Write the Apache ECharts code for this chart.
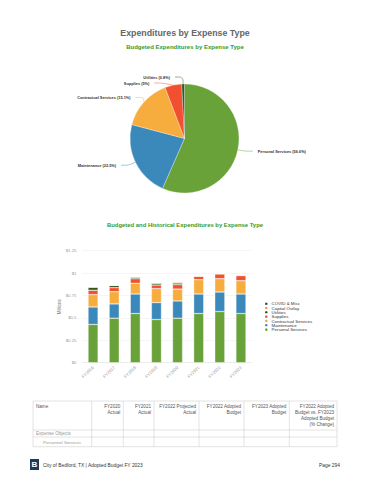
<!DOCTYPE html>
<html><head><meta charset="utf-8">
<script src="https://cdn.jsdelivr.net/npm/echarts@6/dist/echarts.min.js"></script>
<style>html,body{margin:0;padding:0;background:#fff}#c{width:370px;height:480px}</style>
</head><body><div id="c"></div>
<script>
// ---- DATA ----
var pieNames = ['Personal Services', 'Maintenance', 'Contractual Services', 'Supplies', 'Utilities'];
var pieValues = [56.6, 22.5, 15.1, 5.0, 0.8];

var categories = ['FY2016', 'FY2017', 'FY2018', 'FY2019', 'FY2020', 'FY2021', 'FY2022', 'FY2023'];
var personalServices = [0.427, 0.497, 0.549, 0.482, 0.497, 0.549, 0.571, 0.549];
var maintenance      = [0.195, 0.159, 0.218, 0.189, 0.192, 0.218, 0.218, 0.218];
var contractual      = [0.138, 0.137, 0.119, 0.156, 0.133, 0.160, 0.149, 0.149];
var supplies         = [0.048, 0.045, 0.051, 0.040, 0.049, 0.040, 0.055, 0.055];
var utilities        = [0.036, 0.025, 0.019, 0.022, 0.018, 0, 0, 0.008];
var capitalOutlay    = [0, 0, 0, 0, 0.012, 0, 0, 0];
var covidMisc        = [0, 0, 0, 0, 0, 0, 0, 0];
var yTickValues = [0, 0.25, 0.5, 0.75, 1, 1.25];
var yTickLabels = ['$0', '$0.25', '$0.5', '$0.75', '$1', '$1.25'];

var tableHeaders = ['Name', 'FY2020\nActual', 'FY2021\nActual', 'FY2022 Projected\nActual', 'FY2022 Adopted\nBudget', 'FY2023 Adopted\nBudget', 'FY2022 Adopted\nBudget vs. FY2023\nAdopted Budget\n(% Change)'];
var tableRows = ['Expense Objects', 'Personnel Services'];

// ---- STYLE ----
var FONT = '"Liberation Sans", Arial, sans-serif';
var colors = {
  'Personal Services': '#6aa23a',
  'Maintenance': '#3b88bb',
  'Contractual Services': '#f7ad3d',
  'Supplies': '#f0502f',
  'Utilities': '#2f5a1e',
  'Capital Outlay': '#f29a3c',
  'COVID & Misc': '#2a4a6e'
};

var chart = echarts.init(document.getElementById('c'), null, {renderer: 'svg'});

var seriesDefs = [
  ['Personal Services', personalServices],
  ['Maintenance', maintenance],
  ['Contractual Services', contractual],
  ['Supplies', supplies],
  ['Utilities', utilities],
  ['Capital Outlay', capitalOutlay],
  ['COVID & Misc', covidMisc]
];

var barSeries = seriesDefs.map(function (d) {
  return {
    name: d[0], type: 'bar', stack: 'exp', data: d[1], barWidth: 10,
    itemStyle: {color: colors[d[0]], borderColor: '#ffffff', borderWidth: 0.4},
    emphasis: {disabled: true}
  };
});

// table graphics
var colX = [33, 91.7, 123.3, 154, 199, 244, 289.3, 337];
var tTop = 401, tHead = 430, tRow1 = 437, tBot = 446.7;
var g = [];
var lineStyle = {stroke: '#d0d0d0', lineWidth: 0.6};
[tTop, tHead, tRow1, tBot].forEach(function (y) {
  g.push({type: 'line', shape: {x1: colX[0], y1: y, x2: colX[7], y2: y}, style: lineStyle, silent: true});
});
colX.forEach(function (x) {
  g.push({type: 'line', shape: {x1: x, y1: tTop, x2: x, y2: tBot}, style: lineStyle, silent: true});
});
tableHeaders.forEach(function (h, i) {
  var left = i === 0;
  g.push({type: 'text', x: left ? colX[0] + 3 : colX[i + 1] - 3, y: 403.5,
    style: {text: h, fill: '#555', font: '4.6px ' + FONT, textAlign: left ? 'left' : 'right', textVerticalAlign: 'top', lineHeight: 6}});
});
g.push({type: 'text', x: colX[0] + 3, y: 433.5, style: {text: tableRows[0], fill: '#999', font: '4.6px ' + FONT, textVerticalAlign: 'middle'}});
g.push({type: 'text', x: colX[0] + 10, y: 442, style: {text: tableRows[1], fill: '#999', font: '4.4px ' + FONT, textVerticalAlign: 'middle'}});

// footer
g.push({type: 'rect', shape: {x: 30, y: 459, width: 9, height: 11}, style: {fill: '#1c3a5e'}});
g.push({type: 'text', x: 34.5, y: 464.7, style: {text: 'B', fill: '#fff', font: 'bold 8px ' + FONT, textAlign: 'center', textVerticalAlign: 'middle'}});
g.push({type: 'text', x: 43, y: 465, style: {text: 'City of Bedford, TX | Adopted Budget FY 2023', fill: '#333', font: '4.9px ' + FONT, textVerticalAlign: 'middle'}});
g.push({type: 'text', x: 340, y: 465, style: {text: 'Page 294', fill: '#333', font: '4.9px ' + FONT, textAlign: 'right', textVerticalAlign: 'middle'}});

var option = {
  animation: false,
  textStyle: {fontFamily: FONT},
  title: [
    {text: 'Expenditures by Expense Type', left: 'center', top: 23,
      textStyle: {fontSize: 8.8, fontWeight: 'bold', color: '#666', fontFamily: FONT}},
    {text: 'Budgeted Expenditures by Expense Type', left: 'center', top: 39,
      textStyle: {fontSize: 6, fontWeight: 'bold', color: '#3a9a22', fontFamily: FONT}},
    {text: 'Budgeted and Historical Expenditures by Expense Type', left: 'center', top: 217,
      textStyle: {fontSize: 5.9, fontWeight: 'bold', color: '#3a9a22', fontFamily: FONT}}
  ],
  legend: {
    data: seriesDefs.map(function (d) { return d[0]; }).reverse(),
    orient: 'vertical', left: 258, top: 295.5, itemGap: -2.3, itemWidth: 4.6, itemHeight: 4.6, icon: 'circle',
    textStyle: {fontSize: 4.4, lineHeight: 4, color: '#333', padding: [0, 0, 0, -2]}, selectedMode: false
  },
  grid: {left: 82.5, right: 118.5, top: 250.7, bottom: 117.3},
  xAxis: {
    type: 'category', data: categories,
    axisLine: {lineStyle: {color: '#e4e4e4', width: 0.6}}, axisTick: {show: false},
    axisLabel: {rotate: 45, fontSize: 4.3, color: '#999', margin: 4}
  },
  yAxis: {
    type: 'value', min: 0, max: 1.25, interval: 0.25,
    name: 'Millions', nameLocation: 'middle', nameGap: 14,
    nameTextStyle: {fontSize: 4.5, color: '#777'},
    axisLine: {show: false}, axisTick: {show: false},
    axisLabel: {fontSize: 4.3, color: '#999', margin: 6,
      formatter: function (v) { var i = yTickValues.indexOf(+v.toFixed(2)); return i >= 0 ? yTickLabels[i] : ''; }},
    splitLine: {lineStyle: {color: '#eeeeee', width: 0.6}}
  },
  series: [{
    type: 'pie', center: [184.5, 138.5], radius: 54.5, startAngle: 90, clockwise: true,
    data: pieNames.map(function (n, i) { return {name: n, value: pieValues[i], itemStyle: {color: colors[n]}}; }),
    label: {fontSize: 3.9, fontWeight: 'bold', color: '#333',
      formatter: function (p) { return p.name + ' (' + (+p.percent.toFixed(1)) + '%)'; }},
    labelLine: {length: 7, length2: 8, lineStyle: {width: 0.5}, smooth: 0.3},
    itemStyle: {borderColor: '#fff', borderWidth: 0.3},
    emphasis: {disabled: true}
  }].concat(barSeries),
  graphic: g
};
chart.setOption(option);
</script></body></html>
